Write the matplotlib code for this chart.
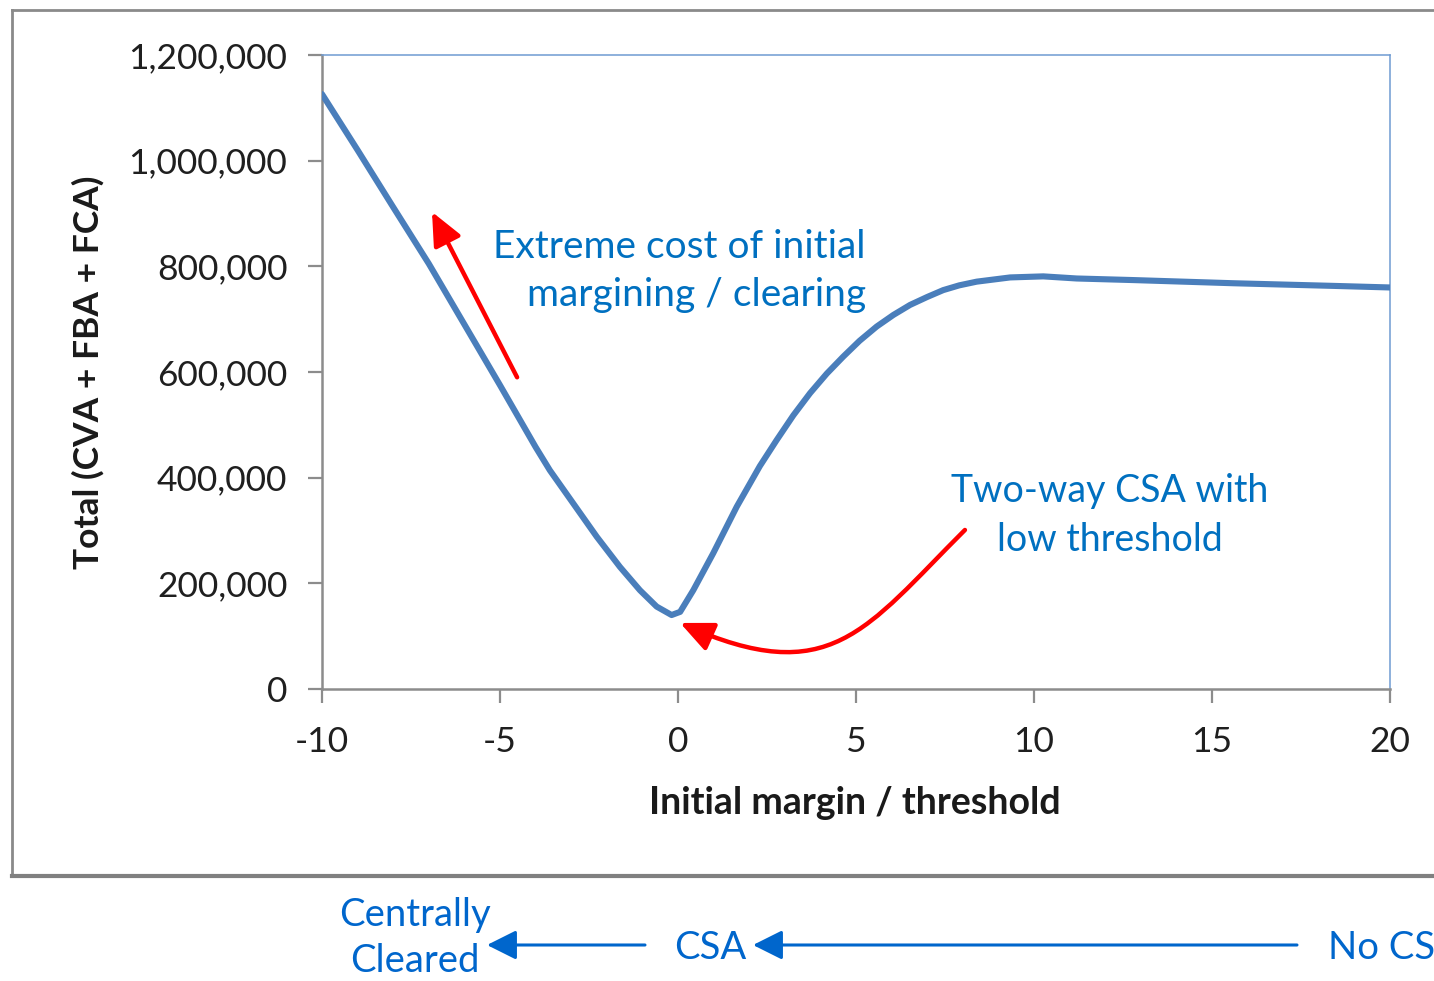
import numpy as np
import matplotlib
matplotlib.use("Agg")
import matplotlib.pyplot as plt
from matplotlib.lines import Line2D
from matplotlib.patches import FancyArrowPatch
from matplotlib.path import Path
from matplotlib.ticker import FuncFormatter

# ==========================================
# DATA
# ==========================================
margin = [-10, -9, -8, -7, -6, -5, -4, -3.6, -2.94, -2.28, -1.63, -1.07, -0.6, -0.18,
          0.06, 0.43, 0.99, 1.65, 2.3, 2.77, 3.24, 3.71, 4.18, 4.64, 5.1,
          5.58, 6.05, 6.52, 7.0, 7.45, 7.9, 8.39, 9.33, 10.26, 11.2, 12.79, 15.6, 18.41, 20]
total = [1126000, 1020000, 912000, 805000, 690000, 575000, 458000, 414000, 351000,
         288000, 231000, 187000, 156000, 140000, 146000, 187000, 257000, 345000,
         422000, 471000, 518000, 560000, 597000, 629000, 659000,
         686000, 708000, 727000, 742000, 755000, 764000, 771000, 779000, 781000,
         777000, 774000, 768000, 763000, 760000]

x_ticks = [-10, -5, 0, 5, 10, 15, 20]
y_ticks = [0, 200000, 400000, 600000, 800000, 1000000, 1200000]

x_label = "Initial margin / threshold"
y_label = "Total (CVA + FBA + FCA)"
note_extreme = "Extreme cost of initial\nmargining / clearing"
note_twoway = "Two-way CSA with\nlow threshold"
bottom_labels = ["Centrally\nCleared", "CSA", "No CSA"]

# colours
line_blue = "#4A7EBB"
text_blue = "#0070C0"
arrow_blue = "#0066CC"
grey = "#8C8C8C"

W, H = 1434, 981
fx = lambda px: px / W
fy = lambda py: 1 - py / H

plt.rcParams['font.family'] = ['Lato', 'DejaVu Sans']
plt.rcParams['axes.unicode_minus'] = False

fig = plt.figure(figsize=(W / 100, H / 100), dpi=100)
ax = fig.add_axes([fx(322), fy(689), (1390 - 322) / W, (689 - 55) / H])

ax.plot(margin, total, color=line_blue, lw=4.4, solid_joinstyle='round',
        solid_capstyle='round', zorder=3)

ax.set_xlim(-10, 20)
ax.set_ylim(0, 1200000)
ax.set_xticks(x_ticks)
ax.set_yticks(y_ticks)
ax.yaxis.set_major_formatter(FuncFormatter(lambda v, p: f"{v:,.0f}"))
ax.tick_params(axis='both', direction='out', length=10, width=1.6, color=grey,
               labelsize=25.5, labelcolor='#1f1f1f')
ax.tick_params(axis='y', pad=15)
ax.tick_params(axis='x', pad=17)

for s in ['left', 'bottom']:
    ax.spines[s].set_color(grey)
    ax.spines[s].set_linewidth(1.8)
for s in ['top', 'right']:
    ax.spines[s].set_color('#6F9BD2')
    ax.spines[s].set_linewidth(1.1)

ax.set_ylabel(y_label, fontsize=25.5, fontweight='bold', color='#1a1a1a', va='center')
ax.yaxis.set_label_coords(-0.219, 0.5)
ax.set_xlabel(x_label, fontsize=27, fontweight='bold', color='#1a1a1a', va='center')
ax.xaxis.set_label_coords(0.499, -0.18)

# annotations inside the chart
ax.text(5.28, 791000, note_extreme, ha='right', va='center', fontsize=28,
        color=text_blue, linespacing=1.4, multialignment='right')
ax.text(12.12, 329000, note_twoway, ha='center', va='center', fontsize=27,
        color=text_blue, linespacing=1.45)

red_head = "-|>,head_length=1.0,head_width=0.45"
ax.annotate("", xy=(-6.91, 903000), xytext=(-4.52, 590000),
            arrowprops=dict(arrowstyle=red_head, mutation_scale=20, color='red',
                            lw=3.2, shrinkA=0, shrinkB=0))

# curved arrow pointing at the minimum (cubic bezier, data coords)
curve_pts = [(8.06, 301000), (5.25, 112000), (4.27, -2000), (0.06, 125000)]
curve_arrow = FancyArrowPatch(path=Path(curve_pts, [Path.MOVETO, Path.CURVE4,
                                                    Path.CURVE4, Path.CURVE4]),
                              arrowstyle=red_head, mutation_scale=20, color='red',
                              lw=3.2, transform=ax.transData, clip_on=False)
ax.add_patch(curve_arrow)

# outer chart frame
fig.add_artist(Line2D([fx(12), fx(12)], [fy(10), fy(876)], color='#8A8A8A', lw=2))
fig.add_artist(Line2D([fx(12), 1.01], [fy(10), fy(10)], color='#8A8A8A', lw=2))
fig.add_artist(Line2D([fx(12), 1.01], [fy(876), fy(876)], color='#808080', lw=3))

# bottom scale of collateralisation
fig.text(fx(415), fy(938), bottom_labels[0], ha='center', va='center', fontsize=27.5,
         color=arrow_blue, linespacing=1.35)
fig.text(fx(710), fy(948), bottom_labels[1], ha='center', va='center', fontsize=27.5,
         color=arrow_blue)
fig.text(fx(1328), fy(948), bottom_labels[2], ha='left', va='center', fontsize=27.5,
         color=arrow_blue)

for tail, tip in [(1297, 753), (645, 487)]:
    ax.annotate("", xy=(fx(tip), fy(945)), xytext=(fx(tail), fy(945)),
                xycoords='figure fraction', textcoords='figure fraction',
                arrowprops=dict(arrowstyle="-|>,head_length=0.9,head_width=0.45",
                                mutation_scale=20, color=arrow_blue, lw=2.2,
                                shrinkA=0, shrinkB=0), annotation_clip=False)

fig.savefig("out.png", dpi=100)
